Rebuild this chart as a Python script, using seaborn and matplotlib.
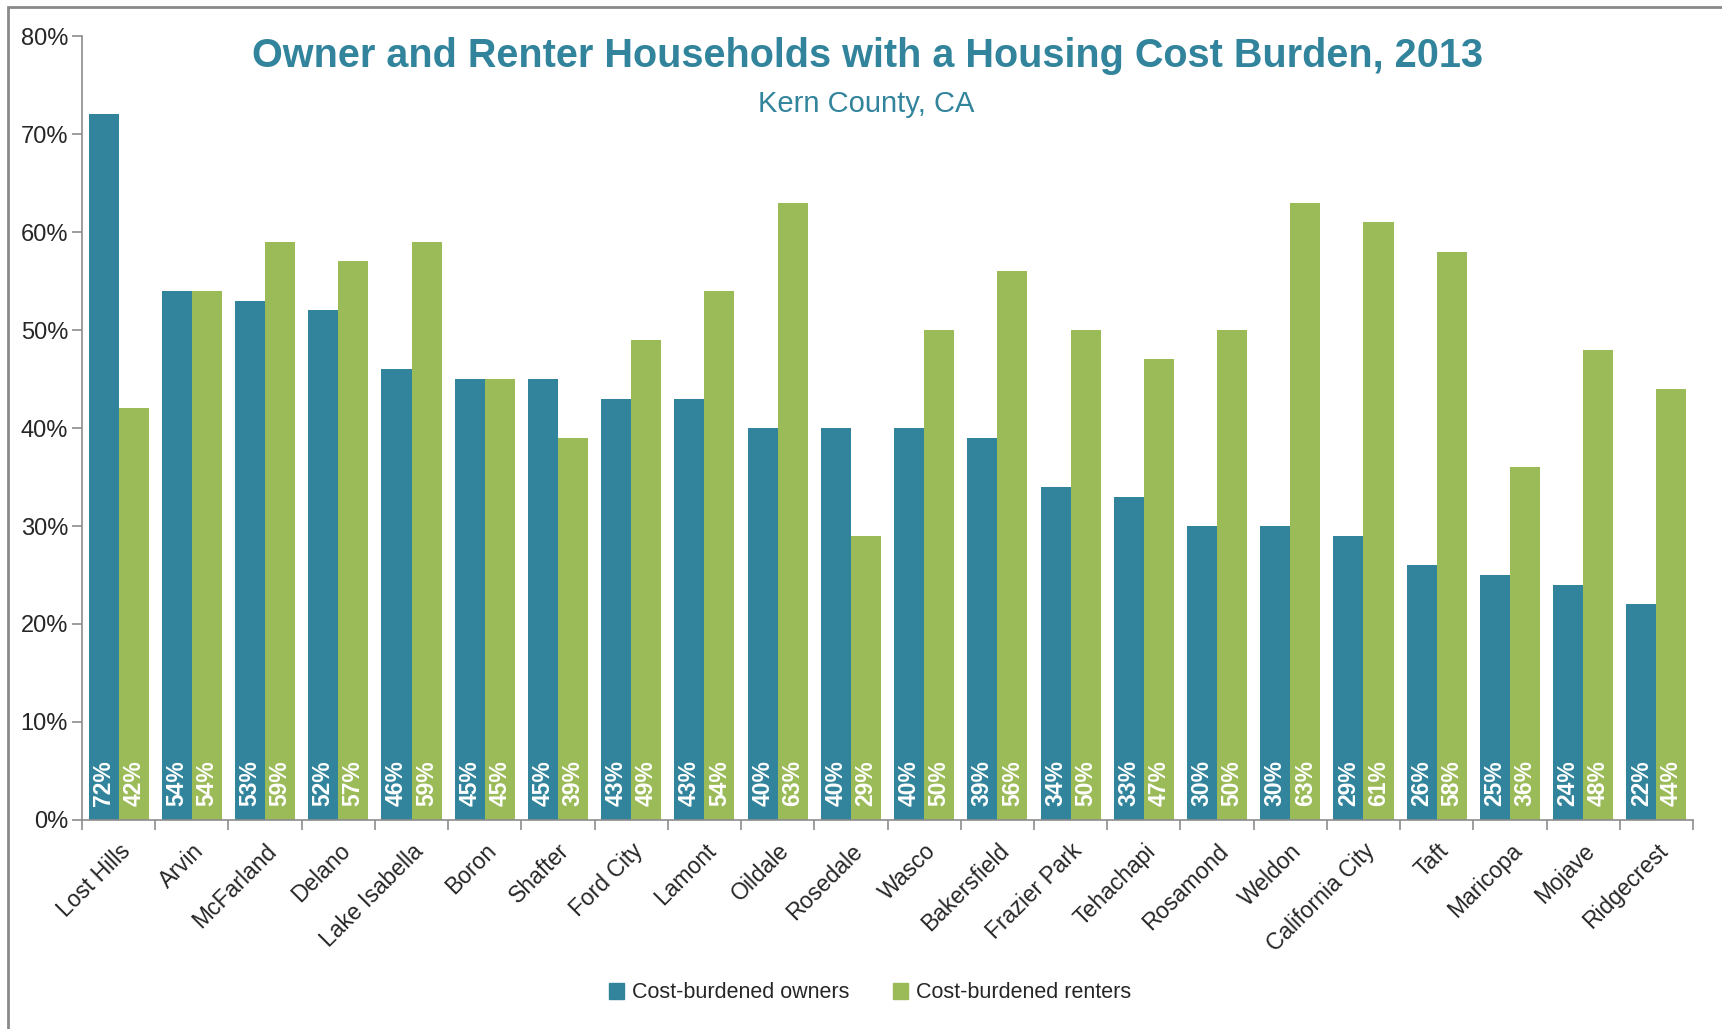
import numpy as np
import pandas as pd
import matplotlib.pyplot as plt
import matplotlib.patches as mpatches
import seaborn as sns

places = ["Lost Hills", "Arvin", "McFarland", "Delano", "Lake Isabella", "Boron", "Shafter",
          "Ford City", "Lamont", "Oildale", "Rosedale", "Wasco", "Bakersfield", "Frazier Park",
          "Tehachapi", "Rosamond", "Weldon", "California City", "Taft", "Maricopa", "Mojave",
          "Ridgecrest"]
owners = [72, 54, 53, 52, 46, 45, 45, 43, 43, 40, 40, 40, 39, 34, 33, 30, 30, 29, 26, 25, 24, 22]
renters = [42, 54, 59, 57, 59, 45, 39, 49, 54, 63, 29, 50, 56, 50, 47, 50, 63, 61, 58, 36, 48, 44]
series = ["Cost-burdened owners", "Cost-burdened renters"]
yticks = [0, 10, 20, 30, 40, 50, 60, 70, 80]

df = pd.DataFrame({
    "place": places * 2,
    "share": owners + renters,
    "group": [series[0]] * len(places) + [series[1]] * len(places),
})

sns.set_style("white")
plt.rcParams['font.family'] = ['Liberation Sans', 'DejaVu Sans']

teal = "#31849B"
green = "#9BBB59"
gray = "#8c8c8c"

fig = plt.figure(figsize=(17.22, 10.29), dpi=100)
ax = fig.add_axes([82 / 1722, 1 - 820 / 1029, (1693 - 82) / 1722, (820 - 36) / 1029])

sns.barplot(data=df, x="place", y="share", hue="group", palette=[teal, green],
            width=0.82, saturation=1, linewidth=0, ax=ax, legend=False)

# value labels inside bars, white, rotated
for cont, vals in zip(ax.containers, [owners, renters]):
    for bar, v in zip(cont, vals):
        ax.text(bar.get_x() + bar.get_width() / 2, 1.4, f"{v}%", rotation=90,
                ha="center", va="bottom", color="white", fontsize=16.5, fontweight="bold")

ax.set_ylim(0, 80)
ax.set_xlim(-0.5, len(places) - 0.5)
ax.set_yticks(yticks)
ax.set_yticklabels([f"{t}%" for t in yticks], fontsize=17)
ax.set_xticks(range(len(places)))
ax.set_xticklabels(places, rotation=45, ha="right", rotation_mode="anchor", fontsize=16.5)
ax.set_xticks(np.arange(-0.5, len(places), 1), minor=True)
ax.tick_params(axis="x", which="major", length=0, pad=14)
ax.tick_params(axis="x", which="minor", length=7, color=gray, width=1.2, direction="out", bottom=True)
ax.tick_params(axis="y", length=7, color=gray, width=1.2, direction="out", left=True, pad=3)
ax.set_xlabel("")
ax.set_ylabel("")
sns.despine(ax=ax)
for s in ["left", "bottom"]:
    ax.spines[s].set_color(gray)
    ax.spines[s].set_linewidth(1.2)

fig.text(868 / 1722, 1 - 56 / 1029, "Owner and Renter Households with a Housing Cost Burden, 2013",
         ha="center", va="center", fontsize=28.5, fontweight="bold", color=teal)
fig.text(866 / 1722, 1 - 104 / 1029, "Kern County, CA",
         ha="center", va="center", fontsize=21, color=teal)

handles = [mpatches.Patch(color=teal, label=series[0]), mpatches.Patch(color=green, label=series[1])]
fig.legend(handles=handles, loc="center", bbox_to_anchor=(870 / 1722, 1 - 993 / 1029), ncol=2,
           frameon=False, fontsize=15.5, handlelength=0.7, handleheight=0.7, handletextpad=0.4,
           columnspacing=2.0)

# outer chart frame (left/top visible)
fig.patches.append(mpatches.Rectangle((8 / 1722, -0.05), 1.2, 1 - 7 / 1029 + 0.05,
                                      transform=fig.transFigure, fill=False,
                                      edgecolor="#8a8a8a", linewidth=2))

fig.savefig("out.png", dpi=100)
